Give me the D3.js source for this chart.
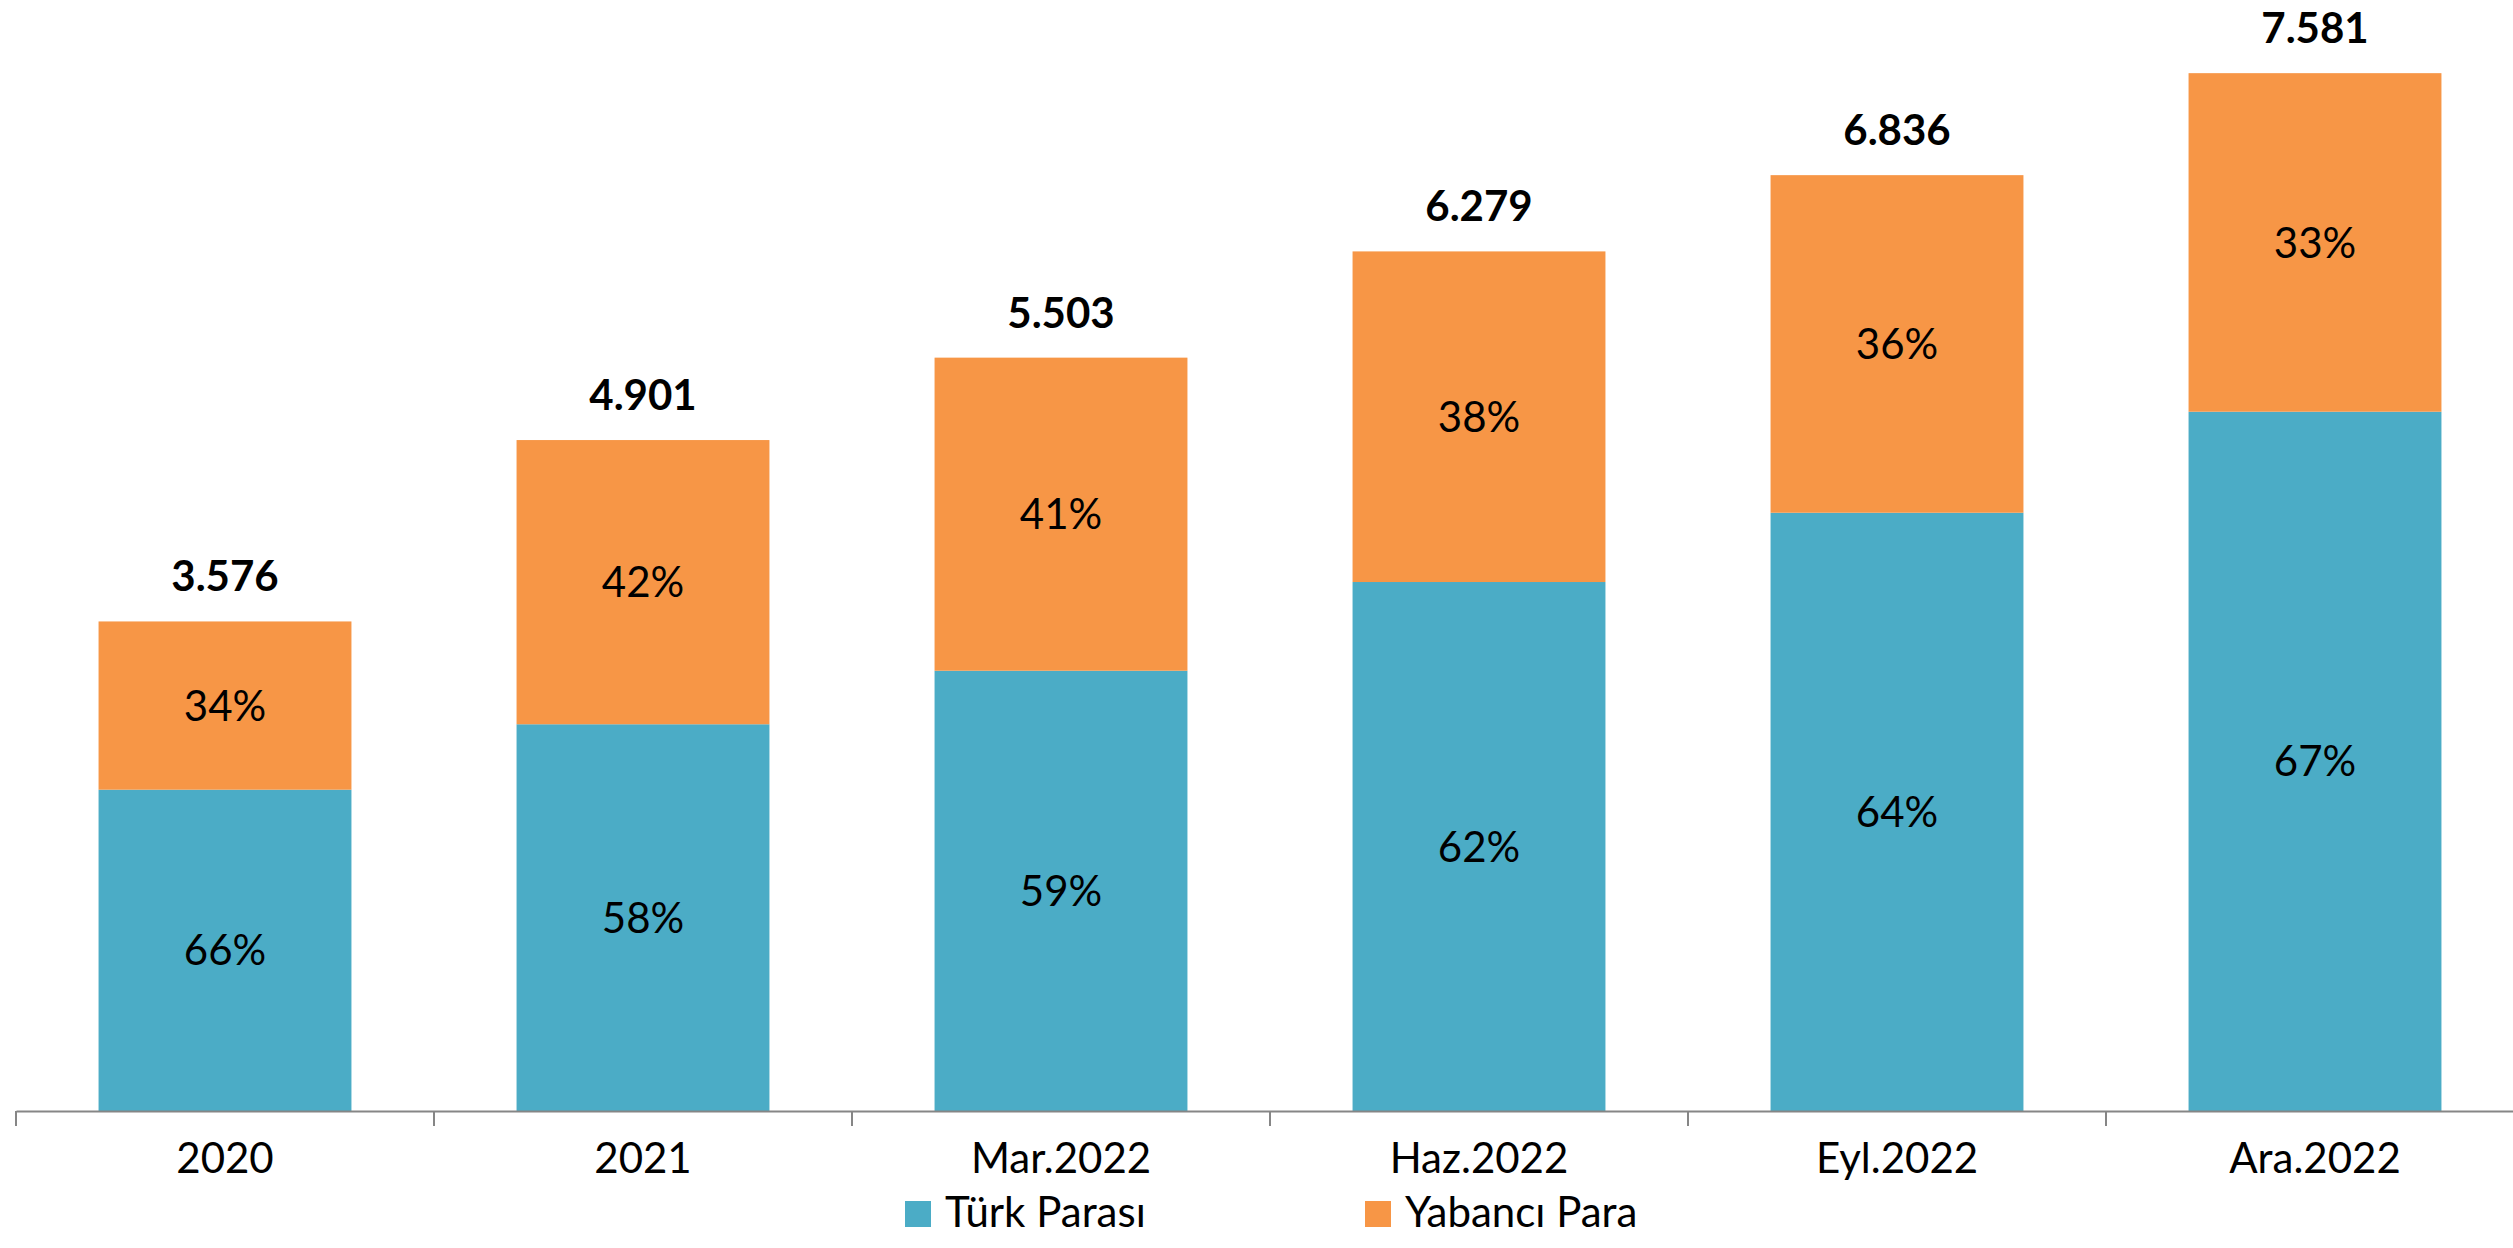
<!DOCTYPE html>
<html>
<head>
<meta charset="utf-8">
<script src="https://cdn.jsdelivr.net/npm/d3@7"></script>
<style>
  body { margin: 0; background: #fff; }
  svg { display: block; font-family: Lato, "Open Sans", sans-serif; }
</style>
</head>
<body>
<div class="chart"></div>
<script>
'use strict';

// values
const categories = ["2020", "2021", "Mar.2022", "Haz.2022", "Eyl.2022", "Ara.2022"];
const turkValues = [2347, 2825, 3216, 3864, 4370, 5108];
const foreignValues = [1229, 2076, 2287, 2415, 2466, 2473];
const turkShare = [66, 58, 59, 62, 64, 67];
const foreignShare = [34, 42, 41, 38, 36, 33];
const totalLabels = ["3.576", "4.901", "5.503", "6.279", "6.836", "7.581"];
const seriesNames = ["Türk Parası", "Yabancı Para"];
const colors = ["#4BACC6", "#F79646"];

(function() {
  const width = 2513, height = 1248;
  const axisY = 1111;

  let svg = d3.select('.chart').append('svg')
    .attr('width', width).attr('height', height);

  let rows = categories.map((c, i) => ({
    cat: c,
    tp: turkValues[i],
    yp: foreignValues[i],
    shares: [turkShare[i], foreignShare[i]],
    label: totalLabels[i]
  }));

  let xScale = d3.scaleBand().domain(categories).range([16, 2524]);
  let barW = xScale.bandwidth() * 0.605;
  let barX = (d) => xScale(d) + (xScale.bandwidth() - barW) / 2;

  let yScale = d3.scaleLinear().domain([0, 8000]).range([axisY, axisY - 8000 * 0.1369]);

  let stack = d3.stack().keys(["tp", "yp"]);
  let layers = stack(rows);

  let groups = svg.selectAll('.layer')
    .data(layers)
    .enter().append('g')
      .attr('class', 'layer')
      .attr('fill', (d, i) => colors[i]);

  groups.selectAll('rect')
    .data((d) => d)
    .enter().append('rect')
      .attr('x', (d) => barX(d.data.cat))
      .attr('width', barW)
      .attr('y', (d) => yScale(d[1]))
      .attr('height', (d) => yScale(d[0]) - yScale(d[1]));

  // percentage labels inside segments
  layers.forEach((layer, li) => {
    svg.selectAll('.pct' + li)
      .data(layer)
      .enter().append('text')
        .attr('x', (d) => xScale(d.data.cat) + xScale.bandwidth() / 2)
        .attr('y', (d) => (yScale(d[0]) + yScale(d[1])) / 2)
        .attr('dy', '0.36em')
        .attr('text-anchor', 'middle')
        .style('font-size', '42px')
        .attr('fill', '#000')
        .text((d) => d.data.shares[li] + '%');
  });

  // totals above bars
  svg.selectAll('.total')
    .data(rows)
    .enter().append('text')
      .attr('x', (d) => xScale(d.cat) + xScale.bandwidth() / 2)
      .attr('y', (d) => yScale(d.tp + d.yp) - 30)
      .attr('text-anchor', 'middle')
      .style('font-size', '42px')
      .style('font-weight', 'bold')
      .attr('fill', '#000')
      .text((d) => d.label);

  // x axis
  let xAxis = d3.axisBottom(xScale).tickSize(0).tickSizeOuter(0);
  let axisG = svg.append('g')
    .attr('transform', 'translate(0,' + axisY + ')')
    .call(xAxis);
  axisG.select('.domain').attr('stroke', '#868686').attr('stroke-width', 2);
  axisG.selectAll('text')
    .attr('y', 62).attr('dy', null)
    .style('font-size', '42px')
    .style('font-family', 'Lato, "Open Sans", sans-serif')
    .attr('fill', '#000');

  // boundary ticks between categories
  let bounds = categories.map((c) => xScale(c)).concat([xScale.range()[1]]);
  axisG.selectAll('.bound')
    .data(bounds)
    .enter().append('line')
      .attr('x1', (d) => d).attr('x2', (d) => d)
      .attr('y1', 0).attr('y2', 15)
      .attr('stroke', '#868686').attr('stroke-width', 2);

  // legend
  let legendX = [905, 1365];
  let legend = svg.selectAll('.legend')
    .data(seriesNames)
    .enter().append('g')
      .attr('transform', (d, i) => 'translate(' + legendX[i] + ',1201)');
  legend.append('rect')
    .attr('width', 26).attr('height', 26)
    .attr('fill', (d, i) => colors[i]);
  legend.append('text')
    .attr('x', 40).attr('y', 26)
    .style('font-size', '42px')
    .attr('fill', '#000')
    .text((d) => d);
})();
</script>
</body>
</html>
